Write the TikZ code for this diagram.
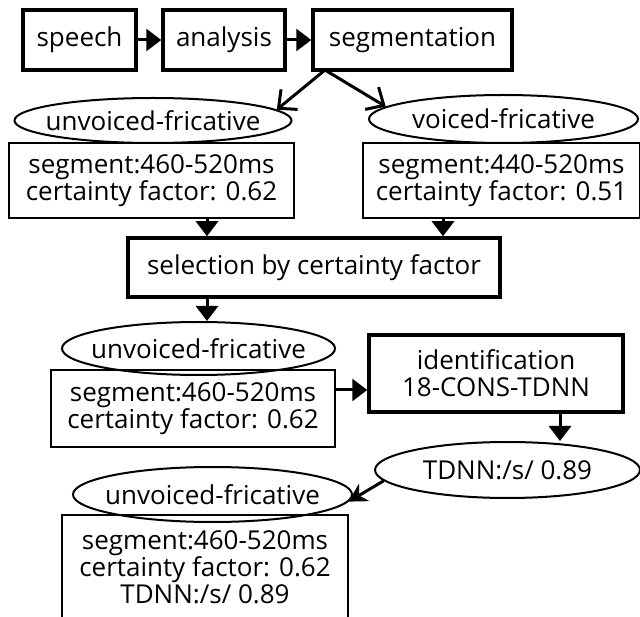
\documentclass[tikz,border=0pt]{standalone}
\usepackage{fontspec}
\setmainfont{Open Sans}
\usepackage{tikz}
\usetikzlibrary{arrows.meta, positioning, shapes.geometric}

\begin{document}
\begin{tikzpicture}[
    x=1pt, y=-1pt,
    every node/.style={font=\fontsize{26}{27}\selectfont, inner sep=0pt, align=center},
    stage/.style={rectangle, draw, line width=3.5pt, minimum width=#1, minimum height=60pt},
    result/.style={rectangle, draw, line width=1.5pt, minimum width=#1, minimum height=75pt},
    phoneme/.style={ellipse, draw, line width=2pt, inner xsep=-30pt, minimum width=#1, minimum height=48pt},
    arr/.style={-{Triangle[length=15pt, width=22pt]}, line width=3pt},
    barb/.style={-{Straight Barb[length=14pt, width=26pt]}, line width=3pt},
    sarr/.style={-{Stealth[length=18pt, width=20pt]}, line width=3pt}
]
\useasboundingbox (0,0) rectangle (640,617);
\clip (0,0) rectangle (640,617);

% Front end
\node[stage=113pt] (speech) at (79.5,40) {speech};
\node[stage=122pt] (analysis) at (224,40) {analysis};
\node[stage=199pt] (seg) at (412.5,40) {segmentation};

% Segment hypotheses
\node[phoneme=277pt, minimum height=45pt] (uv1) at (153,120.5) {unvoiced-fricative};
\node[phoneme=269pt] (v1) at (503.5,119) {voiced-fricative};
\node[result=285pt] (seg1) at (151.5,180.5) {segment:460-520ms\\certainty factor: 0.62};
\node[result=277pt] (seg2) at (501.5,180.5) {segment:440-520ms\\certainty factor: 0.51};

\node[stage=372pt, minimum height=59pt] (sel) at (314,267.5) {selection by certainty factor};

% Selected segment and identification
\node[phoneme=273pt, minimum height=53pt] (uv2) at (198.5,348.5) {unvoiced-fricative};
\node[result=284pt, minimum height=77pt] (seg3) at (193,408.5) {segment:460-520ms\\certainty factor: 0.62};
\node[stage=254pt, minimum height=77pt] (ident) at (496,373.5) {identification\\18-CONS-TDNN};
\node[phoneme=265pt, minimum height=56pt] (tdnn) at (507.5,470) {TDNN:/s/ 0.89};

\node[phoneme=279pt, minimum height=55pt] (uv3) at (212.5,494.5) {unvoiced-fricative};
\node[result=286pt, minimum height=104pt] (seg4) at (205,567) {segment:460-520ms\\certainty factor: 0.62\\TDNN:/s/ 0.89};

% Helper coordinates
\coordinate (fork) at (325,70);
\coordinate (lcol) at (207,0);
\coordinate (rcol) at (443,0);
\coordinate (tcol) at (560,0);
\coordinate (mid) at (0,390);

% Arrows
\draw[arr] (speech) -- (analysis);
\draw[arr] (analysis) -- (seg);
\draw[barb] (fork) -- (uv1.5);
\draw[barb] (fork) -- (v1.174);
\draw[arr] (seg1.south -| lcol) -- (sel.north -| lcol);
\draw[arr] (seg2.south -| rcol) -- (sel.north -| rcol);
\draw[arr] (sel.south -| lcol) -- (uv2.north -| lcol);
\draw[arr] (seg3.east |- mid) -- (ident.west |- mid);
\draw[arr] (ident.south -| tcol) -- (tdnn.north -| tcol);
\draw[sarr] (tdnn.185) -- (uv3.-3);

\end{tikzpicture}
\end{document}
